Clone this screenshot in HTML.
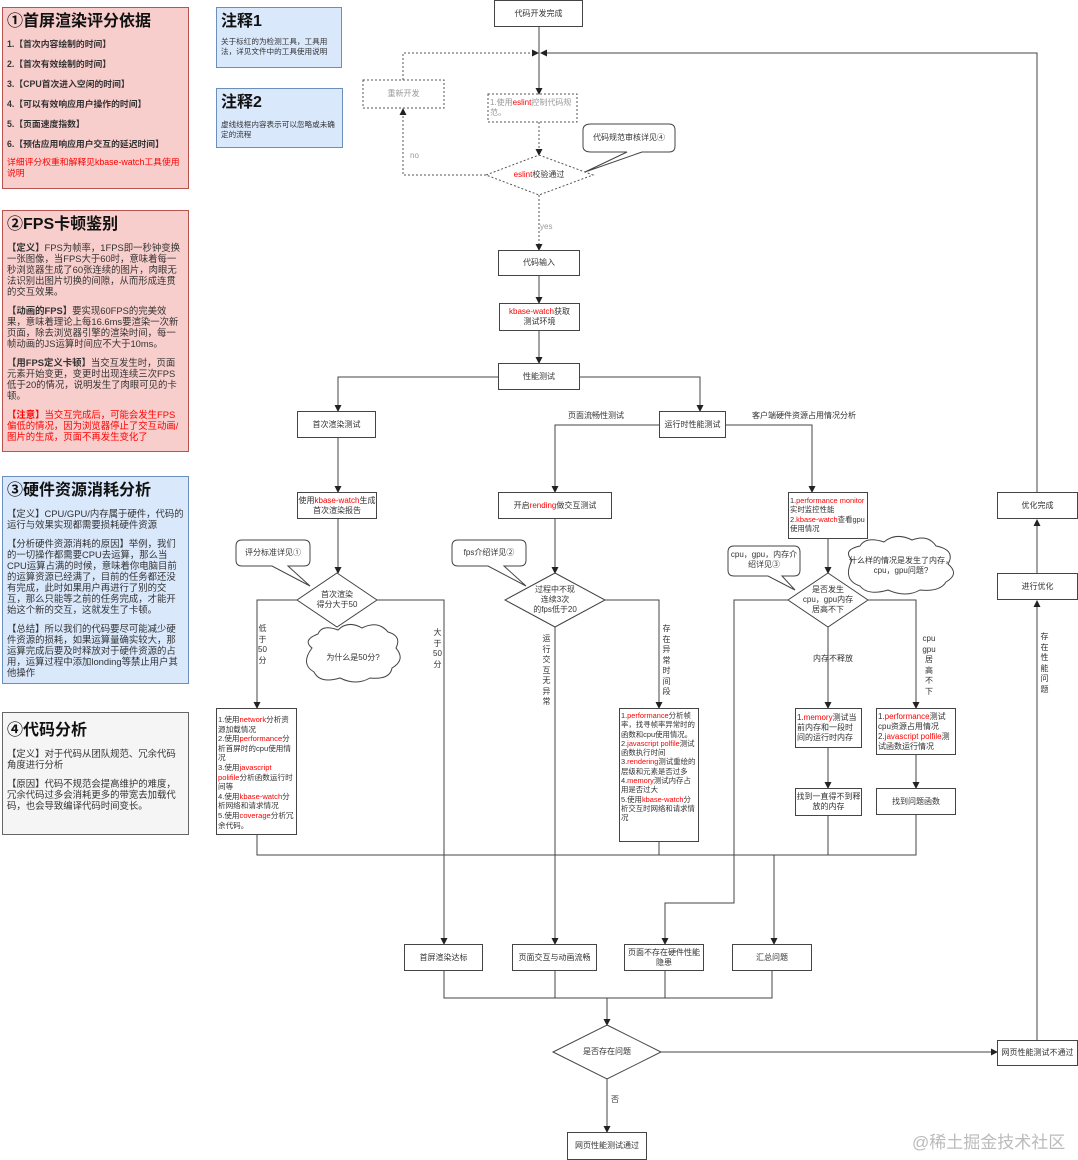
<!DOCTYPE html>
<html><head><meta charset="utf-8"><style>
*{margin:0;padding:0;box-sizing:border-box}
body{width:1078px;height:1160px;position:relative;background:#fff;font-family:"Liberation Sans","Noto Sans CJK SC",sans-serif;color:#333;overflow:hidden}
.p{position:absolute;padding:3px 4px;font-size:9.4px;line-height:11px}
.p h1{font-size:16px;line-height:22px;color:#111;font-weight:bold;margin-bottom:6px}
.p p{margin-bottom:8px}
.r{color:#f00}
.b{position:absolute;border:1px solid #444;background:#fff;font-size:8px;line-height:10px;display:flex;align-items:center;justify-content:center;text-align:center;color:#333}
.bl{justify-content:flex-start;text-align:left;align-items:flex-start;padding:2px 1px}
.t{position:absolute;font-size:8px;line-height:10px;color:#333;text-align:center}
.v{width:9px;word-break:break-all;line-height:10.5px}
svg{position:absolute;left:0;top:0}
</style></head><body>
<svg width="1078" height="1160" viewBox="0 0 1078 1160">
<defs><marker id="a" markerWidth="7" markerHeight="7" refX="6" refY="3.5" orient="auto" markerUnits="userSpaceOnUse"><path d="M0,0L7,3.5L0,7z" fill="#222"/></marker></defs>
<g fill="none" stroke="#444" stroke-width="1">
<path d="M539,27V94" marker-end="url(#a)"/>
<path d="M1037,492V53H541" marker-end="url(#a)"/>
<g stroke-dasharray="2,2" stroke="#555">
<path d="M403,80V53H538" marker-end="url(#a)"/>
<path d="M539,122V155" marker-end="url(#a)"/>
<path d="M486,175H403V109" marker-end="url(#a)"/>
<path d="M539,195V250" marker-end="url(#a)"/>
<rect x="363" y="80" width="81" height="28"/>
<rect x="488" y="94" width="89" height="28"/>
<path d="M539,155L593,175L539,195L486,175Z"/>
</g>
<path d="M539,276V303" marker-end="url(#a)"/>
<path d="M539,331V363" marker-end="url(#a)"/>
<path d="M498,377H338V411" marker-end="url(#a)"/>
<path d="M580,377H700V411" marker-end="url(#a)"/>
<path d="M659,425H555V492" marker-end="url(#a)"/>
<path d="M726,425H812V492" marker-end="url(#a)"/>
<path d="M338,438V492" marker-end="url(#a)"/>
<path d="M338,519V573" marker-end="url(#a)"/>
<path d="M555,519V573" marker-end="url(#a)"/>
<path d="M828,539V573" marker-end="url(#a)"/>
<path d="M337,573L377,600L337,627L297,600Z"/>
<path d="M555,573L605,600L555,627L505,600Z"/>
<path d="M828,573L868,600L828,627L788,600Z"/>
<path d="M297,600H257V708" marker-end="url(#a)"/>
<path d="M377,600H444V944" marker-end="url(#a)"/>
<path d="M555,627V944" marker-end="url(#a)"/>
<path d="M605,600H659V708" marker-end="url(#a)"/>
<path d="M788,600H734V903H665V944" marker-end="url(#a)"/>
<path d="M828,627V708" marker-end="url(#a)"/>
<path d="M868,600H916V708" marker-end="url(#a)"/>
<path d="M828,748V788" marker-end="url(#a)"/>
<path d="M916,755V788" marker-end="url(#a)"/>
<path d="M257,835V855H916V815"/>
<path d="M659,842V855M828,816V855"/>
<path d="M774,855V944" marker-end="url(#a)"/>
<path d="M444,971V998H772V971M555,971V998M665,971V998"/>
<path d="M607,998V1025" marker-end="url(#a)"/>
<path d="M607,1025L661,1052L607,1079L553,1052Z"/>
<path d="M661,1052H997" marker-end="url(#a)"/>
<path d="M607,1079V1132" marker-end="url(#a)"/>
<path d="M1037,1040V601" marker-end="url(#a)"/>
<path d="M1037,573V520" marker-end="url(#a)"/>
</g>
<g fill="#fff" stroke="#444">
<path d="M591,124H669Q675,124 675,130V146Q675,152 669,152H642L585,172L627,152H591Q583,152 583,146V130Q583,124 591,124Z"/>
<path d="M242,540H304Q310,540 310,546V560Q310,566 304,566H288L310,586L272,566H242Q236,566 236,560V546Q236,540 242,540Z"/>
<path d="M458,540H520Q526,540 526,546V560Q526,566 520,566H504L526,586L488,566H458Q452,566 452,560V546Q452,540 458,540Z"/>
<path d="M734,546H794Q800,546 800,552V570Q800,576 794,576H782L795,590L768,576H734Q728,576 728,570V552Q728,546 734,546Z"/>
<path d="M312,648Q302,640 318,634Q322,624 338,630Q348,620 362,628Q378,620 388,632Q402,636 396,648Q406,660 392,668Q390,680 370,678Q356,686 340,678Q320,684 314,672Q300,664 312,648Z"/>
<path d="M852,560Q842,550 860,546Q866,536 884,542Q896,532 912,540Q928,534 936,546Q956,550 948,564Q960,574 946,582Q940,592 920,590Q906,598 888,590Q868,596 860,586Q842,580 852,560Z"/>
</g>
</svg>

<div class="p" style="left:2px;top:7px;width:187px;height:182px;background:#f8cecc;border:1px solid #b85450;font-size:8.8px">
<h1>①首屏渲染评分依据</h1>
<p style="font-weight:bold;margin-bottom:9px">1.【首次内容绘制的时间】</p>
<p style="font-weight:bold;margin-bottom:9px">2.【首次有效绘制的时间】</p>
<p style="font-weight:bold;margin-bottom:9px">3.【CPU首次进入空闲的时间】</p>
<p style="font-weight:bold;margin-bottom:9px">4.【可以有效响应用户操作的时间】</p>
<p style="font-weight:bold;margin-bottom:9px">5.【页面速度指数】</p>
<p style="font-weight:bold;margin-bottom:7px">6.【预估应用响应用户交互的延迟时间】</p>
<p class="r">详细评分权重和解释见kbase-watch工具使用说明</p>
</div>
<div class="p" style="left:216px;top:7px;width:126px;height:61px;background:#dae8fc;border:1px solid #6c8ebf;font-size:7.6px;line-height:10px">
<h1 style="margin-bottom:4px">注释1</h1>关于标红的为检测工具，工具用法，详见文件中的工具使用说明</div>
<div class="p" style="left:216px;top:88px;width:127px;height:60px;background:#dae8fc;border:1px solid #6c8ebf;font-size:7.6px;line-height:10px">
<h1 style="margin-bottom:6px">注释2</h1>虚线线框内容表示可以忽略或未确定的流程</div>
<div class="p" style="left:2px;top:210px;width:187px;height:242px;background:#f8cecc;border:1px solid #b85450">
<h1>②FPS卡顿鉴别</h1>
<p><b>【定义】</b>FPS为帧率，1FPS即一秒钟变换一张图像，当FPS大于60时，意味着每一秒浏览器生成了60张连续的图片，肉眼无法识别出图片切换的间隙，从而形成连贯的交互效果。</p>
<p><b>【动画的FPS】</b>要实现60FPS的完美效果，意味着理论上每16.6ms要渲染一次新页面，除去浏览器引擎的渲染时间，每一帧动画的JS运算时间应不大于10ms。</p>
<p><b>【用FPS定义卡顿】</b>当交互发生时，页面元素开始变更，变更时出现连续三次FPS低于20的情况，说明发生了肉眼可见的卡顿。</p>
<p class="r"><b>【注意】</b>当交互完成后，可能会发生FPS偏低的情况，因为浏览器停止了交互动画/图片的生成，页面不再发生变化了</p>
</div>
<div class="p" style="left:2px;top:476px;width:187px;height:208px;background:#dae8fc;border:1px solid #6c8ebf">
<h1>③硬件资源消耗分析</h1>
<p>【定义】CPU/GPU/内存属于硬件，代码的运行与效果实现都需要损耗硬件资源</p>
<p>【分析硬件资源消耗的原因】举例，我们的一切操作都需要CPU去运算，那么当CPU运算占满的时候，意味着你电脑目前的运算资源已经满了，目前的任务都还没有完成，此时如果用户再进行了别的交互，那么只能等之前的任务完成，才能开始这个新的交互，这就发生了卡顿。</p>
<p>【总结】所以我们的代码要尽可能减少硬件资源的损耗，如果运算量确实较大，那运算完成后要及时释放对于硬件资源的占用，运算过程中添加londing等禁止用户其他操作</p>
</div>
<div class="p" style="left:2px;top:712px;width:187px;height:123px;background:#f5f5f5;border:1px solid #666">
<h1 style="margin-top:4px">④代码分析</h1>
<p>【定义】对于代码从团队规范、冗余代码角度进行分析</p>
<p>【原因】代码不规范会提高维护的难度，冗余代码过多会消耗更多的带宽去加载代码，也会导致编译代码时间变长。</p>
</div>

<div class="b" style="left:494px;top:0;width:89px;height:27px">代码开发完成</div>
<div class="t" style="left:363px;top:89px;width:81px;color:#999">重新开发</div>
<div class="t" style="left:490px;top:98px;width:86px;text-align:left;color:#999">1.使用<span class="r">eslint</span>控制代码规范。</div>
<div class="t" style="left:583px;top:133px;width:92px">代码规范审核详见④</div>
<div class="t" style="left:490px;top:170px;width:98px"><span class="r">eslint</span>校验通过</div>
<div class="t" style="left:410px;top:151px;color:#999">no</div>
<div class="t" style="left:540px;top:222px;color:#999">yes</div>
<div class="b" style="left:498px;top:250px;width:82px;height:26px">代码输入</div>
<div class="b" style="left:499px;top:303px;width:81px;height:28px"><span><span class="r">kbase-watch</span>获取<br>测试环境</span></div>
<div class="b" style="left:498px;top:363px;width:82px;height:27px">性能测试</div>
<div class="b" style="left:297px;top:411px;width:79px;height:27px">首次渲染测试</div>
<div class="b" style="left:659px;top:411px;width:67px;height:27px">运行时性能测试</div>
<div class="t" style="left:568px;top:411px">页面流畅性测试</div>
<div class="t" style="left:752px;top:411px">客户端硬件资源占用情况分析</div>
<div class="b" style="left:297px;top:492px;width:80px;height:27px"><span>使用<span class="r">kbase-watch</span>生成<br>首次渲染报告</span></div>
<div class="b" style="left:498px;top:492px;width:114px;height:27px"><span>开启<span class="r">rending</span>做交互测试</span></div>
<div class="b bl" style="left:788px;top:492px;width:80px;height:47px;font-size:7.4px;line-height:9.4px;padding-top:3px"><span>1.<span class="r">performance monitor</span> 实时监控性能<br>2.<span class="r">kbase-watch</span>查看gpu使用情况</span></div>
<div class="b" style="left:997px;top:492px;width:81px;height:27px">优化完成</div>
<div class="t" style="left:236px;top:548px;width:74px">评分标准详见①</div>
<div class="t" style="left:452px;top:548px;width:74px">fps介绍详见②</div>
<div class="t" style="left:728px;top:550px;width:72px">cpu，gpu，内存介绍详见③</div>
<div class="t" style="left:846px;top:556px;width:110px">什么样的情况是发生了内存，cpu，gpu问题?</div>
<div class="t" style="left:305px;top:590px;width:64px">首次渲染<br>得分大于50</div>
<div class="t" style="left:520px;top:585px;width:70px">过程中不现<br>连续3次<br>的fps低于20</div>
<div class="t" style="left:793px;top:585px;width:70px">是否发生<br>cpu，gpu内存<br>居高不下</div>
<div class="b" style="left:997px;top:573px;width:81px;height:27px">进行优化</div>
<div class="t v" style="left:258px;top:624px">低于50分</div>
<div class="t v" style="left:433px;top:628px">大于50分</div>
<div class="t v" style="left:542px;top:634px">运行交互无异常</div>
<div class="t v" style="left:662px;top:624px">存在异常时间段</div>
<div class="t v" style="left:1040px;top:632px">存在性能问题</div>
<div class="t" style="left:922px;top:634px;width:14px;line-height:10.5px">cpu<br>gpu<br>居<br>高<br>不<br>下</div>
<div class="t" style="left:813px;top:654px">内存不释放</div>
<div class="t" style="left:318px;top:653px;width:70px">为什么是50分?</div>
<div class="b bl" style="left:216px;top:708px;width:81px;height:127px;padding-top:6px;font-size:7.6px;line-height:9.6px"><span>1.使用<span class="r">network</span>分析资源加载情况<br>2.使用<span class="r">performance</span>分析首屏时的cpu使用情况<br>3.使用<span class="r">javascript polifile</span>分析函数运行时间等<br>4.使用<span class="r">kbase-watch</span>分析网络和请求情况<br>5.使用<span class="r">coverage</span>分析冗余代码。</span></div>
<div class="b bl" style="left:619px;top:708px;width:80px;height:134px;font-size:7.4px;line-height:9.3px"><span>1.<span class="r">performance</span>分析帧率，找寻帧率异常时的函数和cpu使用情况。<br>2.<span class="r">javascript polfile</span>测试函数执行时间<br>3.<span class="r">rendering</span>测试重绘的层级和元素是否过多<br>4.<span class="r">memory</span>测试内存占用是否过大<br>5.使用<span class="r">kbase-watch</span>分析交互时网络和请求情况</span></div>
<div class="b bl" style="left:795px;top:708px;width:67px;height:40px;padding-top:4px"><span>1.<span class="r">memory</span>测试当前内存和一段时间的运行时内存</span></div>
<div class="b bl" style="left:876px;top:708px;width:80px;height:47px;padding-top:3px"><span>1.<span class="r">performance</span>测试cpu资源占用情况<br>2.<span class="r">javascript polfile</span>测试函数运行情况</span></div>
<div class="b" style="left:795px;top:788px;width:67px;height:28px">找到一直得不到释放的内存</div>
<div class="b" style="left:876px;top:788px;width:80px;height:27px">找到问题函数</div>
<div class="b" style="left:404px;top:944px;width:79px;height:27px">首屏渲染达标</div>
<div class="b" style="left:512px;top:944px;width:85px;height:27px">页面交互与动画流畅</div>
<div class="b" style="left:624px;top:944px;width:80px;height:27px">页面不存在硬件性能隐患</div>
<div class="b" style="left:732px;top:944px;width:80px;height:27px">汇总问题</div>
<div class="t" style="left:570px;top:1047px;width:74px">是否存在问题</div>
<div class="b" style="left:997px;top:1040px;width:81px;height:26px">网页性能测试不通过</div>
<div class="t" style="left:611px;top:1095px">否</div>
<div class="b" style="left:567px;top:1132px;width:80px;height:28px">网页性能测试通过</div>
<div class="t" style="left:912px;top:1132px;font-size:17px;line-height:22px;color:#bbb">@稀土掘金技术社区</div>
</body></html>
